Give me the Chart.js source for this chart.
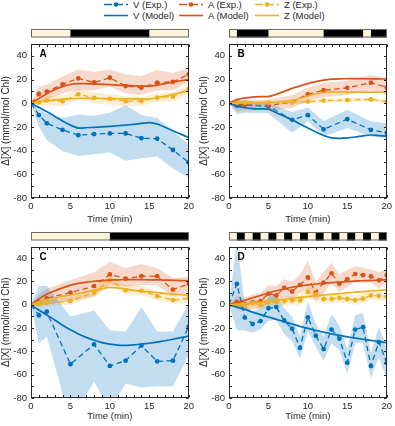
<!DOCTYPE html>
<html><head><meta charset="utf-8">
<script src="https://cdn.jsdelivr.net/npm/chart.js@4"></script>
<style>
html,body{margin:0;padding:0;background:#fff;width:395px;height:426px;overflow:hidden;position:relative;font-family:'Liberation Sans',Arial,Helvetica,sans-serif;}
canvas{position:absolute;}
.it{position:absolute;height:11px;font-size:9.5px;line-height:11px;color:#262626;white-space:nowrap;display:flex;align-items:center;}
.it svg{display:block;margin-right:5px;}
</style></head><body>
<div class="it" style="left:104px;top:-1px"><svg width="24" height="11"><line x1="0" y1="5.5" x2="24" y2="5.5" stroke="#0072BD" stroke-width="1.3" stroke-dasharray="8,3"/><circle cx="12" cy="5.5" r="2.3" fill="#0072BD"/></svg><span>V (Exp.)</span></div>
<div class="it" style="left:179px;top:-1px"><svg width="24" height="11"><line x1="0" y1="5.5" x2="24" y2="5.5" stroke="#D95319" stroke-width="1.3" stroke-dasharray="8,3"/><circle cx="12" cy="5.5" r="2.3" fill="#D95319"/></svg><span>A (Exp.)</span></div>
<div class="it" style="left:255px;top:-1px"><svg width="24" height="11"><line x1="0" y1="5.5" x2="24" y2="5.5" stroke="#EDB120" stroke-width="1.3" stroke-dasharray="8,3"/><circle cx="12" cy="5.5" r="2.3" fill="#EDB120"/></svg><span>Z (Exp.)</span></div>
<div class="it" style="left:104px;top:10px"><svg width="24" height="11"><line x1="0" y1="5.5" x2="24" y2="5.5" stroke="#0072BD" stroke-width="1.6"/></svg><span>V (Model)</span></div>
<div class="it" style="left:179px;top:10px"><svg width="24" height="11"><line x1="0" y1="5.5" x2="24" y2="5.5" stroke="#D95319" stroke-width="1.6"/></svg><span>A (Model)</span></div>
<div class="it" style="left:255px;top:10px"><svg width="24" height="11"><line x1="0" y1="5.5" x2="24" y2="5.5" stroke="#EDB120" stroke-width="1.6"/></svg><span>Z (Model)</span></div>

<canvas id="cA" width="197" height="200" style="left:0;top:25px"></canvas>
<canvas id="cB" width="197" height="200" style="left:198px;top:25px"></canvas>
<canvas id="cC" width="197" height="195" style="left:0;top:227px"></canvas>
<canvas id="cD" width="197" height="195" style="left:198px;top:227px"></canvas>
<script>
// ---------- data ----------
const M_time = [0,1,2,3,4,5,6,7,8,9,10,11,12,13,14,15,16,17,18,19,20];

// Panel A
const A_time = [0,1,2,4,6,8,10,12,14,16,18,20];
const A_V    = [0,-10,-17,-22.5,-27,-26,-25.5,-25.5,-29.5,-30,-39.5,-50];
const A_V_hi = [0,-5,-8.5,-12.5,-9.5,-10.5,-8,-1.5,-10,-12.5,-23.5,-35];
const A_V_lo = [0,-19.5,-31,-40.5,-44.5,-43,-41.5,-48.5,-46.5,-45,-55,-63];
const A_A    = [0,7.8,9.7,16,21,17.6,21.5,14.5,13.1,17.3,18.1,24.3];
const A_A_hi = [0,14,15.5,22.5,28.5,26.5,28.5,24.5,23,28,25.5,30];
const A_A_lo = [0,1.5,3,8.5,11,11,14,8.5,7,11,11,18];
const A_Z    = [0,0.7,2.4,1.6,7.5,4.4,3.6,1.6,1.9,4.7,5.5,11.7];
const A_Z_hi = [0,3,6,6,12,9,8,5.5,5.5,8.5,9.5,15.5];
const A_Z_lo = [0,-2,-1.5,-3,3,0,-1,-2.5,-2,1,1.5,8];
const A_Vm = [0,-3.5,-7,-11,-15,-18.5,-21,-20.7,-20.3,-19.9,-19.5,-19,-18.5,-17.8,-17,-16.3,-17.5,-20.3,-23.2,-26.1,-29];
const A_Am = [0,4,8,11.5,14,15.8,16.5,16.5,16.3,16,15.7,15.3,15,14.7,14.5,14.5,15.3,16.5,17.8,19,20];
const A_Zm = [0,1,2,2.8,3.4,3.9,4.2,4.2,4.1,4,3.9,3.8,3.7,3.6,3.6,3.6,4.6,6,7.5,9,10.5];
const A_dark = [[5,15]];

// Panel B
const B_time = [0,1,2,5,8,10,12,15,18,20];
const B_V    = [0,-2,-1.5,-2.5,-14,-10,-22,-13.5,-22.5,-25];
const B_V_hi = [0,3,2,0,-7.5,-3.5,-15,-5.5,-15.5,-17];
const B_V_lo = [0,-9,-8,-8.5,-25,-15.5,-28,-21,-28,-29.5];
const B_A    = [0,-1,-1.5,-2,1,7.5,11,13,17.3,13.4];
const B_A_hi = [0,4,3,3,7,13,17,19,24,21];
const B_A_lo = [0,-7,-6,-6,-4,2,5,7,11,7];
const B_Z    = [0,0.5,0.5,0.5,0.7,1.4,2.2,2.7,3.2,1.4];
const B_Z_hi = [0,2,2,2,2.2,3,3.8,4.3,4.8,3.2];
const B_Z_lo = [0,-1,-1,-1,-0.8,-0.2,0.6,1.1,1.6,-0.4];
const B_Vm = [0,-2.5,-3.8,-4.5,-4.8,-5,-8,-11,-14,-17.5,-21,-24.3,-27.3,-29.3,-29.6,-29.2,-28.5,-27.5,-26.8,-27.3,-27.8];
const B_Am = [0,3,4.5,5.2,5.5,5.7,7.5,10,12.5,14.6,16.6,18.3,19.5,20.3,20.6,20.7,20.7,20.7,20.6,20.5,20.4];
const B_Zm = [0,0.3,0.5,0.5,0.5,0.5,0.8,1.5,2.5,4,6,7.8,9,9.6,9.6,9.4,9.3,9.3,9.3,9.3,9.2];
const B_dark = [[1,5],[12,17],[18,20]];

// Panel C
const C_time = [0,1,2,5,8,10,12,14,16,18,20];
const C_V    = [0,-9,-6,-51,-34,-52.5,-48,-35,-48.5,-48,-18.7];
const C_V_hi = [0,16,16,-10,-5,-22,-23,-2,-23,-23,1];
const C_V_lo = [0,-33,-27.5,-100,-66,-90,-67.5,-71,-70,-70,-43];
const C_A    = [0,2,5.5,10.5,16,26,22.5,24.5,24.5,13,18];
const C_A_hi = [0,9,14,21,28,37,31.5,35,31.5,23,24];
const C_A_lo = [0,-1,0.5,3,7,17,15.5,17,17,7,11];
const C_Z    = [0,0.5,1.5,3.3,10.5,21,12.5,12,7.5,4,5.5];
const C_Z_hi = [0,3,4,7,14,25,17,16,12,8,9];
const C_Z_lo = [0,-2,-1,0,7,17,8.5,8,4,1,2];
const C_Vm = [0,-4.5,-8.8,-13,-17.5,-21.5,-25,-28,-30.5,-32.5,-33.8,-34.6,-34.8,-34.4,-33.8,-33,-32,-30.9,-29.6,-28.2,-26.8];
const C_Am = [0,5,9,12,14.5,16.8,18.3,19.4,20.2,20.8,21.2,21.4,21.5,21.5,21.5,21.4,21.3,21.2,21,20.8,20.5];
const C_Zm = [0,2.5,4.5,6,7.2,8.4,9.7,11,12.3,13.8,15,14.5,13.5,12.5,11.6,11,10.3,9.8,9.2,8.7,8.2];
const C_dark = [[10,20]];

// Panel D
const D_time = [0,1,2,3,4,5,6,7,8,9,10,11,12,13,14,15,16,17,18,19,20];
const D_V    = [0,18,-11,-16.5,-14,-3,-2,-13.5,-20.5,-37,-10.8,-26.5,-38,-21.3,-29,-49.7,-21.3,-19.2,-52.6,-32,-49.7];
const D_V_hi = [0,55,0,-6,-3,7,9,-3,-10,-27,3,-16,-27,-8,-18,-38,-9,-7,-41,-19,-37];
const D_V_lo = [0,-22,-22,-24,-21,-14,-13,-25,-31,-46,-23,-36,-48,-33,-39,-59,-33,-33,-63,-45,-63];
const D_A    = [0,2.5,0.5,2,3,9.5,8,14.5,11.4,17,23.5,10.5,19,27,18,22,26.3,25.5,24.3,21,25.5];
const D_A_hi = [0,8,6,9,10,17,16,22,20,26,38,20,28,36,26,30,33,32,30,28,31];
const D_A_lo = [0,-3,-5,-4,-3,3,1,7,4,10,13,2,10,18,11,15,20,19,19,14,20];
const D_Z    = [0,-0.5,-0.5,1.4,0,1.8,2.3,3,3.7,3.7,11,9,5,5,6,5,4,5.3,8,7.7,7];
const D_Z_hi = [0,3,3,5,4,6,6,7,8,8,16,14,9,9,10,9,8,9,12,11,11];
const D_Z_lo = [0,-4,-4,-2,-4,-2,-1,-1,0,0,6,4,1,1,2,1,0,1.5,4,4,3];
const D_Vm = [0,-2,-4,-6.3,-8.5,-10.5,-12.5,-14.5,-16.5,-18.5,-20.3,-22,-23.5,-25,-26.3,-27.5,-28.6,-29.6,-30.6,-31.6,-32.6];
const D_Am = [0,1.8,3.8,6,8,10,12,13.5,15,16,17,17.8,18.5,19,19.5,19.9,20.3,20.6,20.9,21.2,21.5];
const D_Zm = [0,0.5,1,1.6,2.3,3,3.8,4.6,5.4,6.3,7,7.7,8.4,9,9.6,10.2,10.8,11.3,11.8,12.3,12.8];
const D_dark = [[1,2],[3,4],[5,6],[7,8],[9,10],[11,12],[13,14],[15,16],[17,18],[19,20]];

const X_TICKS = [0,5,10,15,20];
const Y_TICKS = [-80,-60,-40,-20,0,20,40];

// ---------- drawing ----------
const BLUE='#0072BD', ORANGE='#D95319', YELLOW='#EDB120', INK='#262626';
const FONT="'Liberation Sans', Arial, Helvetica, sans-serif";
const pts = (t,v) => t.map((x,i)=>({x:x, y:v[i]}));

function band(t, hi, lo, color){
  return [
    {data:pts(t,hi), borderWidth:0, borderColor:'transparent', pointRadius:0, fill:'+1', backgroundColor:color, order:20},
    {data:pts(t,lo), borderWidth:0, borderColor:'transparent', pointRadius:0, fill:false, order:20}
  ];
}
function exp(t, v, c, order){
  return {data:pts(t,v), borderColor:c, backgroundColor:c, pointBackgroundColor:c, borderWidth:1.3,
          borderDash:[5.5,3.5], pointRadius:2.4, pointBorderWidth:0, fill:false, order:order, tension:0};
}
function model(v, c, order){
  return {data:pts(M_time,v), borderColor:c, borderWidth:1.7, pointRadius:0, fill:false, order:order, tension:0.2};
}

const decor = {
  id:'decor',
  afterDraw(chart, args, o){
    const {ctx, chartArea:a, scales:{x, y}} = chart;
    ctx.save();
    const L = Math.round(a.left)+0.5, R = Math.round(a.right)-0.5, T = Math.round(a.top)+0.5, B = Math.round(a.bottom)-0.5;
    // light/dark bar
    const bt = Math.round(a.top) - 15, bh = 8.5;
    const x0 = x.getPixelForValue(x.min), x1 = x.getPixelForValue(x.max);
    ctx.fillStyle = '#FBF5D9';
    ctx.fillRect(x0, bt, x1-x0, bh);
    ctx.fillStyle = '#000';
    o.dark.forEach(([s,e]) => {
      const p0 = x.getPixelForValue(s), p1 = x.getPixelForValue(e);
      ctx.fillRect(p0, bt, p1-p0, bh);
    });
    ctx.strokeStyle = '#6b6b6b'; ctx.lineWidth = 1;
    ctx.strokeRect(Math.round(x0)+0.5, bt+0.5, Math.round(x1-x0)-1, bh-1);
    // box
    ctx.strokeStyle = INK; ctx.lineWidth = 1;
    ctx.strokeRect(L, T, R-L, B-T);
    // inward ticks
    ctx.beginPath();
    for (let v = x.min; v <= x.max; v += 1){
      const p = Math.round(x.getPixelForValue(v))+0.5;
      ctx.moveTo(p, B); ctx.lineTo(p, B-2.5);
      ctx.moveTo(p, T); ctx.lineTo(p, T+2.5);
    }
    for (let v = y.min; v <= y.max; v += 10){
      const p = Math.round(y.getPixelForValue(v))+0.5;
      ctx.moveTo(L, p); ctx.lineTo(L+2.5, p);
      ctx.moveTo(R, p); ctx.lineTo(R-2.5, p);
    }
    ctx.stroke();
    // panel letter
    ctx.fillStyle = '#000';
    ctx.font = 'bold 10px ' + FONT;
    ctx.textBaseline = 'middle'; ctx.textAlign = 'left';
    ctx.fillText(o.letter, a.left + 8.5, a.top + 10.5);
    ctx.restore();
  }
};

function makePanel(id, letter, dark, t, V, Vhi, Vlo, A, Ahi, Alo, Z, Zhi, Zlo, Vm, Am, Zm, padTop, xH){
  const datasets = [].concat(
    band(t, Vhi, Vlo, 'rgba(0,114,189,0.24)'),
    band(t, Ahi, Alo, 'rgba(217,83,25,0.22)'),
    band(t, Zhi, Zlo, 'rgba(237,177,32,0.22)'),
    [exp(t, V, BLUE, 8), exp(t, A, ORANGE, 7), exp(t, Z, YELLOW, 6),
     model(Vm, BLUE, 5), model(Am, ORANGE, 4), model(Zm, YELLOW, 3)]
  );
  return new Chart(document.getElementById(id), {
    type:'line',
    data:{datasets},
    plugins:[decor],
    options:{
      responsive:false, animation:false, devicePixelRatio:1, events:[],
      layout:{padding:{top:padTop, right:7, left:0, bottom:0}},
      plugins:{legend:{display:false}, tooltip:{enabled:false}, decor:{dark, letter}},
      scales:{
        x:{type:'linear', min:0, max:20,
           afterBuildTicks: s => { s.ticks = X_TICKS.map(v=>({value:v})); },
           ticks:{color:INK, font:{family:FONT, size:9.5}, padding:3, maxRotation:0, autoSkip:false},
           grid:{display:false, drawTicks:false}, border:{display:false},
           title:{display:true, text:'Time (min)', color:INK, font:{family:FONT, size:9.5}, padding:{top:0,bottom:0}},
           afterFit: s => { s.height = xH; }},
        y:{type:'linear', min:-80, max:50,
           afterBuildTicks: s => { s.ticks = Y_TICKS.map(v=>({value:v})); },
           ticks:{color:INK, font:{family:FONT, size:9.5}, padding:4},
           grid:{display:false, drawTicks:false}, border:{display:false},
           title:{display:true, text:'Δ[X] (mmol/mol Chl)', color:INK, font:{family:FONT, size:10}, padding:{top:0,bottom:0}},
           afterFit: s => { s.width = 31; }}
      }
    }
  });
}

makePanel('cA','A',A_dark,A_time,A_V,A_V_hi,A_V_lo,A_A,A_A_hi,A_A_lo,A_Z,A_Z_hi,A_Z_lo,A_Vm,A_Am,A_Zm,19,27);
makePanel('cB','B',B_dark,B_time,B_V,B_V_hi,B_V_lo,B_A,B_A_hi,B_A_lo,B_Z,B_Z_hi,B_Z_lo,B_Vm,B_Am,B_Zm,19,27);
makePanel('cC','C',C_dark,C_time,C_V,C_V_hi,C_V_lo,C_A,C_A_hi,C_A_lo,C_Z,C_Z_hi,C_Z_lo,C_Vm,C_Am,C_Zm,19.5,24);
makePanel('cD','D',D_dark,D_time,D_V,D_V_hi,D_V_lo,D_A,D_A_hi,D_A_lo,D_Z,D_Z_hi,D_Z_lo,D_Vm,D_Am,D_Zm,19.5,24);
</script>
</body></html>
